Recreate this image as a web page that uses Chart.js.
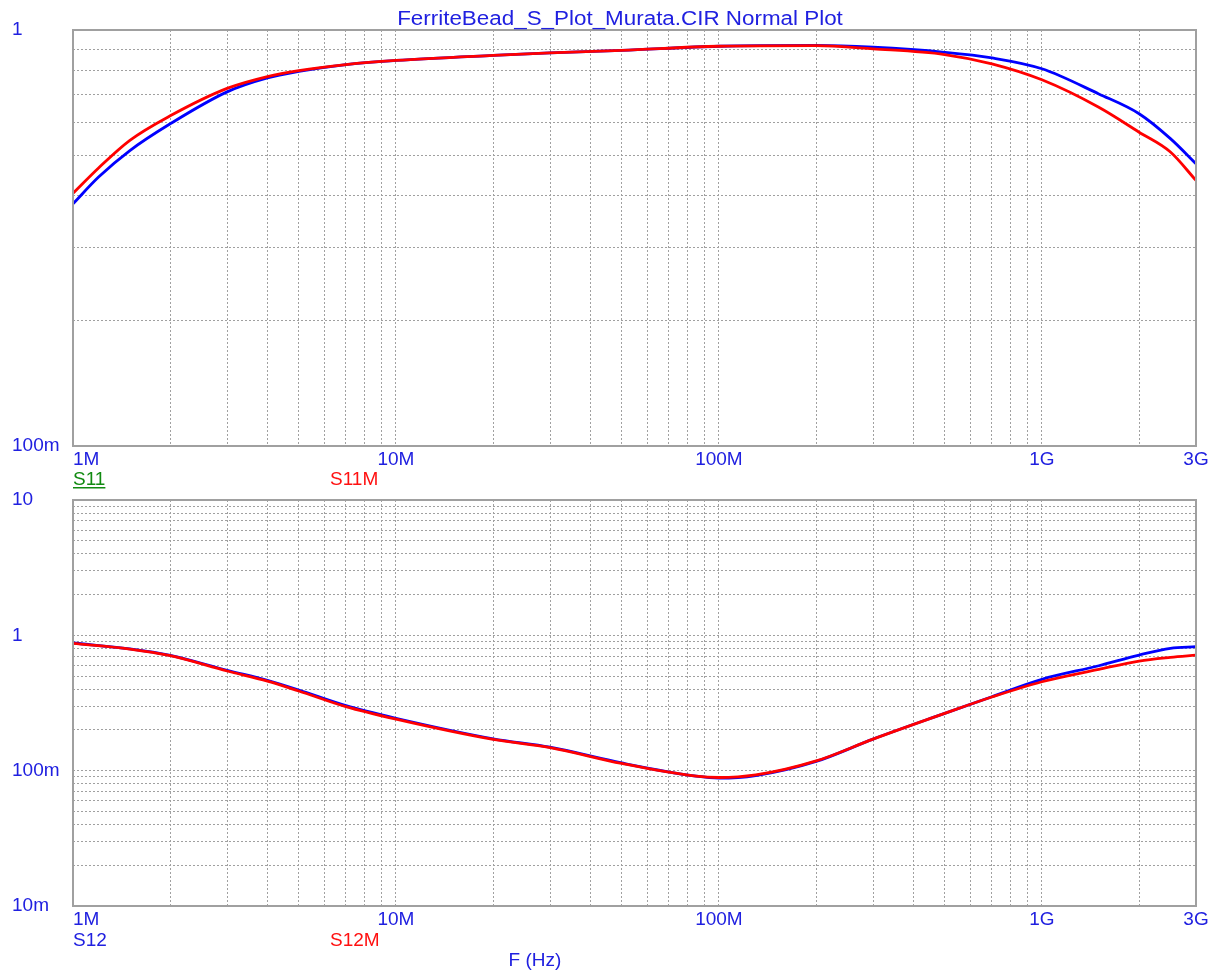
<!DOCTYPE html>
<html>
<head>
<meta charset="utf-8">
<script src="https://cdn.jsdelivr.net/npm/chart.js@4.4.1/dist/chart.umd.min.js"></script>
<style>
body { margin: 0; background: #fff; }
#wrap { position: relative; width: 1217px; height: 973px; }
canvas { position: absolute; left: 0; }
</style>
</head>
<body>
<div id="wrap">
<canvas id="s11Plot" width="1217" height="492" style="top:0"></canvas>
<canvas id="s12Plot" width="1217" height="493" style="top:480px"></canvas>
</div>
<script>
// frequencies (Hz) and magnitudes
var s11Freq = [1e6, 1.2e6, 1.5e6, 2e6, 3e6, 4e6, 5e6, 7e6, 10e6, 20e6, 30e6, 50e6, 100e6, 200e6, 300e6, 500e6, 700e6, 1e9, 1.5e9, 2e9, 2.5e9, 3e9];
var s11 = [0.382, 0.443, 0.513, 0.595, 0.710, 0.767, 0.795, 0.826, 0.845, 0.869, 0.881, 0.893, 0.914, 0.918, 0.909, 0.884, 0.857, 0.807, 0.702, 0.629, 0.548, 0.477];
var s11m = [0.405, 0.466, 0.543, 0.622, 0.724, 0.773, 0.799, 0.826, 0.845, 0.869, 0.881, 0.893, 0.914, 0.917, 0.901, 0.873, 0.829, 0.759, 0.652, 0.568, 0.509, 0.435];

var s12Freq = [1e6, 1.5e6, 2e6, 3e6, 4e6, 5e6, 7e6, 10e6, 20e6, 30e6, 50e6, 85e6, 100e6, 130e6, 200e6, 300e6, 500e6, 700e6, 1e9, 1.5e9, 2e9, 2.5e9, 3e9];
var s12 = [0.878, 0.795, 0.712, 0.552, 0.465, 0.394, 0.302, 0.244, 0.172, 0.149, 0.114, 0.091, 0.088, 0.092, 0.117, 0.171, 0.265, 0.352, 0.473, 0.596, 0.715, 0.802, 0.824];
var s12m = [0.873, 0.792, 0.707, 0.545, 0.459, 0.388, 0.297, 0.240, 0.170, 0.148, 0.113, 0.091, 0.089, 0.093, 0.118, 0.171, 0.265, 0.350, 0.454, 0.561, 0.646, 0.688, 0.715];

var xTickValues = [1e6, 1e7, 1e8, 1e9, 3e9];
var xTickLabels = ['1M', '10M', '100M', '1G', '3G'];
var s11TickValues = [0.1, 1];
var s11TickLabels = ['100m', '1'];
var s12TickValues = [0.01, 0.1, 1, 10];
var s12TickLabels = ['10m', '100m', '1', '10'];

var FONT = '"Liberation Sans", Arial, sans-serif';
var TEXT_BLUE = '#2020e0';
var GRID = '#a0a0a0';

// 1..9 per decade for the dotted grid
function decadeGrid(lo, hi) {
    var out = [];
    for (var d = lo; d < hi * 0.999; d *= 10) {
        for (var k = 1; k < 10; k++) {
            if (d * k <= hi * 1.0001) out.push(d * k);
        }
    }
    out.push(hi);
    return out;
}

function points(xs, ys) {
    var p = [];
    for (var i = 0; i < xs.length; i++) p.push({ x: xs[i], y: ys[i] });
    return p;
}

var frame = {
    id: 'frame',
    afterDraw: function(chart, args, opts) {
        var ctx = chart.ctx;
        var a = chart.chartArea;
        var xs = chart.scales.x;
        ctx.save();
        ctx.strokeStyle = '#a0a0a0';
        ctx.lineWidth = 2;
        ctx.strokeRect(a.left, a.top, a.right - a.left, a.bottom - a.top);

        ctx.font = '19px ' + FONT;
        ctx.textBaseline = 'alphabetic';
        ctx.fillStyle = TEXT_BLUE;
        for (var i = 0; i < xTickValues.length; i++) {
            ctx.textAlign = i === 0 ? 'left' : 'center';
            ctx.fillText(xTickLabels[i], xs.getPixelForValue(xTickValues[i]), a.bottom + opts.labelDrop);
        }

        ctx.textAlign = 'left';
        opts.legend.forEach(function(item) {
            var text = chart.data.datasets[item.ds].label;
            ctx.fillStyle = item.color;
            ctx.fillText(text, item.x, a.bottom + opts.legendDrop);
            if (item.underline) {
                var w = ctx.measureText(text).width;
                ctx.fillRect(item.x, a.bottom + opts.legendDrop + 2, w, 1.5);
            }
        });

        if (opts.title) {
            // source picture is a little stretched sideways
            ctx.save();
            ctx.fillStyle = TEXT_BLUE;
            ctx.textAlign = 'center';
            ctx.font = '20px ' + FONT;
            ctx.translate(620, 25);
            ctx.scale(1.12, 1);
            ctx.fillText(opts.title, 0, 0);
            ctx.restore();
        }
        if (opts.axisTitle) {
            ctx.fillStyle = TEXT_BLUE;
            ctx.textAlign = 'center';
            ctx.fillText(opts.axisTitle, 535, a.bottom + opts.axisTitleDrop);
        }
        ctx.restore();
    }
};

function makePlot(id, freqs, a, b, names, yMin, yMax, yTicks, yLabels, padTop, xHeight, extra) {
    var gridY = decadeGrid(yMin, yMax);
    var gridX = decadeGrid(1e6, 1e9).concat([2e9, 3e9]);
    return new Chart(document.getElementById(id), {
        type: 'line',
        data: {
            datasets: [{
                label: names[0],
                data: points(freqs, a),
                borderColor: '#0000ff',
                borderWidth: 2.8,
                pointRadius: 0,
                cubicInterpolationMode: 'monotone',
                order: 1
            }, {
                label: names[1],
                data: points(freqs, b),
                borderColor: '#ff0000',
                borderWidth: 2.8,
                pointRadius: 0,
                cubicInterpolationMode: 'monotone',
                order: 0
            }]
        },
        options: {
            responsive: false,
            animation: false,
            layout: { padding: { left: 12, right: 21, top: padTop, bottom: 0 } },
            plugins: {
                legend: { display: false },
                tooltip: { enabled: false },
                frame: extra
            },
            scales: {
                x: {
                    type: 'logarithmic',
                    min: 1e6,
                    max: 3e9,
                    afterBuildTicks: function(scale) {
                        scale.ticks = gridX.map(function(v) { return { value: v }; });
                    },
                    afterFit: function(scale) { scale.height = xHeight; },
                    ticks: { display: false, autoSkip: false },
                    grid: { color: GRID, lineWidth: 1, drawTicks: false },
                    border: { display: false, dash: [2, 2] }
                },
                y: {
                    type: 'logarithmic',
                    min: yMin,
                    max: yMax,
                    afterBuildTicks: function(scale) {
                        scale.ticks = gridY.map(function(v) { return { value: v }; });
                    },
                    afterFit: function(scale) { scale.width = 61; },
                    ticks: {
                        autoSkip: false,
                        crossAlign: 'far',
                        color: TEXT_BLUE,
                        font: { family: FONT, size: 19 },
                        callback: function(v) {
                            for (var i = 0; i < yTicks.length; i++) {
                                if (Math.abs(v / yTicks[i] - 1) < 1e-6) return yLabels[i];
                            }
                            return '';
                        }
                    },
                    grid: { color: GRID, lineWidth: 1, drawTicks: false },
                    border: { display: false, dash: [2, 2] }
                }
            }
        },
        plugins: [frame]
    });
}

makePlot('s11Plot', s11Freq, s11, s11m, ['S11', 'S11M'], 0.1, 1, s11TickValues, s11TickLabels, 30, 46, {
    labelDrop: 19,
    legendDrop: 39,
    title: 'FerriteBead_S_Plot_Murata.CIR Normal Plot',
    legend: [
        { ds: 0, x: 73, color: '#108a10', underline: true },
        { ds: 1, x: 330, color: '#ff1010' }
    ]
});

makePlot('s12Plot', s12Freq, s12, s12m, ['S12', 'S12M'], 0.01, 10, s12TickValues, s12TickLabels, 20, 67, {
    labelDrop: 19,
    legendDrop: 40,
    axisTitle: 'F (Hz)',
    axisTitleDrop: 60,
    legend: [
        { ds: 0, x: 73, color: TEXT_BLUE },
        { ds: 1, x: 330, color: '#ff1010' }
    ]
});
</script>
</body>
</html>
